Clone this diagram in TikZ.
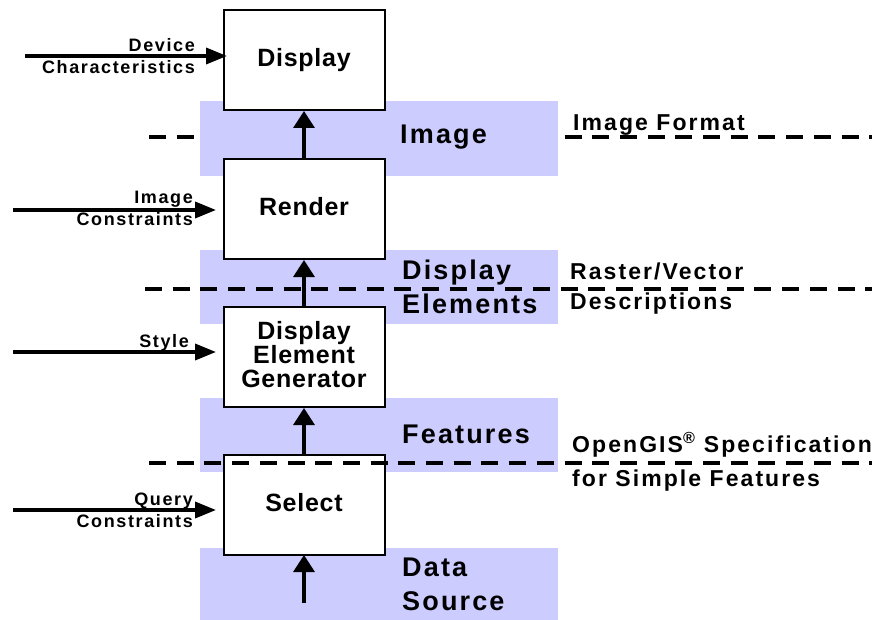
\documentclass[tikz,border=0pt]{standalone}
\usepackage{fontspec}
\usepackage{tikz}
\usetikzlibrary{arrows.meta}
\newfontfamily\stagefont{Liberation Sans}[LetterSpace=3]
\newfontfamily\tagfont{Liberation Sans}[LetterSpace=9]
\newfontfamily\bandfont{Liberation Sans}[LetterSpace=8]
\definecolor{bandblue}{HTML}{CCCCFF}
\tikzset{
  stage/.style={draw, line width=2pt, fill=white, minimum width=161pt,
    minimum height=100pt, inner sep=0pt, align=center, text depth=5pt,
    font=\stagefont\bfseries\fontsize{25}{24}\selectfont},
  band/.style={fill=bandblue},
  flow/.style={-{Triangle[length=17pt,width=21pt]}, line width=3.2pt},
  inflow/.style={-{Triangle[length=21pt,width=16pt]}, line width=3.6pt},
  level/.style={dash pattern=on 17pt off 10.7pt, line width=4.5pt},
  inlabel/.style={anchor=east, align=right, inner sep=0pt,
    font=\tagfont\bfseries\fontsize{18}{22}\selectfont},
  bandlabel/.style={anchor=west, align=left, inner sep=0pt,
    font=\bandfont\bfseries\fontsize{27}{33.5}\selectfont},
  outlabel/.style={anchor=west, align=left, inner sep=0pt,
    font=\tagfont\bfseries\fontsize{23}{30}\selectfont}
}
\begin{document}
\begin{tikzpicture}[x=1pt,y=-1pt]
      \useasboundingbox (0,0) rectangle (880,620);
      \draw[level] (149,137) -- (872,137);
      \fill[band] (200,101) rectangle (558,176);
      \fill[band] (200,250) rectangle (558,324);
      \fill[band] (200,398) rectangle (558,472);
      \fill[band] (200,548) rectangle (558,620);
      \node[stage] (display) at (304,60) {Display};
      \node[stage] (render) at (304,209) {Render};
      \node[stage] (generator) at (304,357) {Display\\Element\\Generator};
      \node[stage] (select) at (304,505) {Select};
      \draw[flow] (render) -- (display);
      \draw[flow] (generator) -- (render);
      \draw[flow] (select) -- (generator);
      \coordinate (source) at (304,603);
      \draw[flow, shorten >=-1pt] (source) -- (select.south);
      \coordinate (devicein) at (25,56);
      \coordinate (imagein) at (13,210);
      \coordinate (stylein) at (13,352);
      \coordinate (queryin) at (13,510);
      \draw[inflow, shorten >=-4.5pt] (devicein) -- (display.west |- devicein);
      \draw[inflow, shorten >=6.5pt] (imagein) -- (render.west |- imagein);
      \draw[inflow, shorten >=6.5pt] (stylein) -- (generator.west |- stylein);
      \draw[inflow, shorten >=6.5pt] (queryin) -- (select.west |- queryin);
      \draw[level] (145,289) -- (872,289);
      \draw[level] (149,463) -- (872,463);
      \node[inlabel] (devicetag) at (195,55.8) {Device\\Characteristics};
      \node[inlabel] (imagetag) at (193,208.8) {Image\\Constraints};
      \node[inlabel, anchor=base east] (styletag) at (189,347) {Style};
      \node[inlabel] (querytag) at (193,509.8) {Query\\Constraints};
      \node[bandlabel, anchor=base west] (imageband) at (400,144) {Image};
      \node[bandlabel] (elementband) at (402,287) {Display\\Elements};
      \node[bandlabel, anchor=base west] (featureband) at (402,443) {Features};
      \node[bandlabel] (sourceband) at (402,584.5) {Data\\Source};
      \node[outlabel, anchor=base west] (formattag) at (573,131) {Image Format};
      \node[outlabel] (rastertag) at (570,289) {Raster/Vector\\Descriptions};
      \node[outlabel] (simpletag) at (572,461.5) {OpenGIS\textsuperscript{®} Specification\\[4pt]for Simple Features};
    \end{tikzpicture}
\end{document}
